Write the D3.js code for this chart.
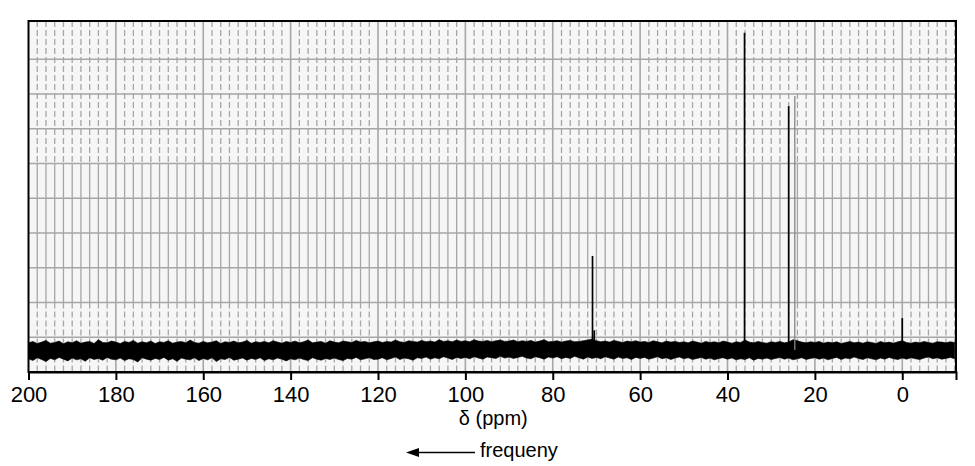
<!DOCTYPE html>
<html>
<head>
<meta charset="utf-8">
<script src="https://cdn.jsdelivr.net/npm/d3@7.9.0/dist/d3.min.js"></script>
<style>
  html, body { margin: 0; padding: 0; background: #fff; }
  svg { display: block; font-family: "Liberation Sans", Arial, sans-serif; }
</style>
</head>
<body>
<div id="chart"></div>
<script>
// ppm axis
const xTicks = [200, 180, 160, 140, 120, 100, 80, 60, 40, 20, 0];
const ppmStart = 200;   // noise envelope sampled every 1 ppm from 200 down to -12

// upper / lower edge of the baseline noise band (grid units)
const noiseHi = [
  0.84,0.88,0.82,0.86,0.91,0.83,0.85,0.89,0.81,0.87,
  0.84,0.90,0.83,0.86,0.88,0.82,0.93,0.85,0.84,0.89,
  0.86,0.82,0.88,0.85,0.91,0.83,0.87,0.84,0.89,0.82,
  0.87,0.85,0.90,0.83,0.86,0.88,0.84,0.92,0.85,0.83,
  0.88,0.84,0.86,0.90,0.82,0.87,0.85,0.89,0.84,0.86,
  0.91,0.83,0.87,0.85,0.88,0.84,0.90,0.86,0.83,0.88,
  0.85,0.89,0.84,0.87,0.92,0.84,0.86,0.88,0.83,0.90,
  0.86,0.84,0.89,0.87,0.85,0.91,0.86,0.88,0.84,0.87,
  0.89,0.85,0.88,0.86,0.92,0.87,0.85,0.90,0.88,0.86,
  0.91,0.87,0.89,0.86,0.93,0.88,0.90,0.87,0.92,0.88,
  0.90,0.87,0.93,0.89,0.88,0.91,0.87,0.90,0.92,0.88,
  0.89,0.92,0.87,0.90,0.88,0.91,0.86,0.89,0.93,0.87,
  0.88,0.90,0.86,0.89,0.91,0.87,0.88,0.90,0.92,0.95,
  0.90,0.87,0.89,0.86,0.91,0.88,0.85,0.89,0.87,0.90,
  0.86,0.88,0.85,0.90,0.87,0.84,0.89,0.86,0.88,0.85,
  0.87,0.84,0.89,0.86,0.83,0.88,0.85,0.87,0.84,0.89,
  0.86,0.83,0.87,0.85,0.92,0.86,0.84,0.88,0.85,0.83,
  0.87,0.85,0.88,0.84,0.86,0.93,0.90,0.86,0.84,0.87,
  0.85,0.88,0.83,0.86,0.84,0.87,0.82,0.85,0.88,0.84,
  0.86,0.83,0.87,0.85,0.82,0.88,0.84,0.86,0.83,0.87,
  0.90,0.85,0.83,0.86,0.84,0.88,0.85,0.83,0.87,0.86,
  0.84,0.87,0.85
];
const noiseLo = [
  0.38,0.33,0.41,0.36,0.30,0.39,0.35,0.42,0.37,0.32,
  0.40,0.35,0.38,0.31,0.41,0.36,0.39,0.34,0.42,0.37,
  0.35,0.40,0.33,0.38,0.36,0.29,0.41,0.37,0.34,0.39,
  0.36,0.42,0.34,0.38,0.31,0.40,0.37,0.35,0.41,0.33,
  0.39,0.35,0.41,0.30,0.38,0.36,0.42,0.34,0.37,0.40,
  0.34,0.39,0.36,0.41,0.33,0.38,0.35,0.40,0.37,0.32,
  0.38,0.35,0.40,0.36,0.33,0.41,0.37,0.34,0.39,0.36,
  0.40,0.36,0.33,0.39,0.37,0.42,0.35,0.38,0.41,0.36,
  0.37,0.41,0.35,0.39,0.43,0.36,0.40,0.38,0.34,0.41,
  0.39,0.43,0.37,0.41,0.38,0.44,0.40,0.36,0.42,0.39,
  0.42,0.38,0.44,0.40,0.37,0.43,0.41,0.39,0.45,0.40,
  0.43,0.39,0.42,0.45,0.40,0.38,0.44,0.41,0.37,0.43,
  0.40,0.44,0.38,0.42,0.39,0.45,0.41,0.37,0.43,0.39,
  0.42,0.38,0.44,0.40,0.37,0.43,0.39,0.41,0.36,0.42,
  0.39,0.42,0.37,0.40,0.44,0.38,0.41,0.36,0.40,0.43,
  0.38,0.41,0.36,0.39,0.42,0.37,0.40,0.35,0.39,0.41,
  0.37,0.40,0.35,0.38,0.36,0.41,0.34,0.39,0.37,0.40,
  0.36,0.39,0.42,0.37,0.40,0.35,0.38,0.41,0.36,0.39,
  0.41,0.37,0.40,0.35,0.39,0.42,0.36,0.40,0.38,0.43,
  0.39,0.36,0.41,0.38,0.35,0.40,0.37,0.42,0.38,0.36,
  0.40,0.37,0.41,0.38,0.36,0.40,0.43,0.38,0.41,0.37,
  0.39,0.42,0.38
];

// signals: position (ppm) and top (grid units)
const peakPpm    = [70.9, 70.5, 36.1, 26.0, 0.0];
const peakHeight = [3.34, 1.20, 9.76, 7.65, 1.55];
// faint (grey) trace at ~24.6 ppm
const faintPpm    = [24.6];
const faintHeight = [7.94];

const baseLevel = 0.63;

const width = 975, height = 466;
const margin = { top: 21, right: 19, bottom: 94, left: 28.5 };
const plotW = width - margin.left - margin.right;
const plotH = height - margin.top - margin.bottom;

const svg = d3.select("#chart").append("svg")
  .attr("width", width)
  .attr("height", height);

const x = d3.scaleLinear().domain([200, -12.3]).range([0, plotW]);
const y = d3.scaleLinear().domain([0, 10.1]).range([plotH, 0]);

const g = svg.append("g").attr("transform", `translate(${margin.left},${margin.top})`);

g.append("rect")
  .attr("width", plotW).attr("height", plotH)
  .attr("fill", "#f6f6f6");

// minor vertical grid, every 2 ppm (dashed top & bottom, solid in middle band)
const minor = d3.range(198, -12.3, -2).filter(d => d % 20 !== 0);
const gridCol = "#a6a6a6";
const segs = [
  { y0: 10.1, y1: 6, dash: "6,3" },
  { y0: 6, y1: 2, dash: null },
  { y0: 2, y1: 0, dash: "6,3" }
];
segs.forEach(s => {
  g.append("g").selectAll("line").data(minor).join("line")
    .attr("x1", d => x(d)).attr("x2", d => x(d))
    .attr("y1", y(s.y0)).attr("y2", y(s.y1))
    .attr("stroke", gridCol)
    .attr("stroke-width", 1.3)
    .attr("stroke-dasharray", s.dash);
});

// major vertical grid, every 20 ppm
g.append("g").selectAll("line").data(xTicks.slice(1)).join("line")
  .attr("x1", d => x(d)).attr("x2", d => x(d))
  .attr("y1", 0).attr("y2", plotH)
  .attr("stroke", gridCol).attr("stroke-width", 1.6);

// horizontal grid
g.append("g").selectAll("line").data(d3.range(1, 10)).join("line")
  .attr("x1", 0).attr("x2", plotW)
  .attr("y1", d => y(d)).attr("y2", d => y(d))
  .attr("stroke", gridCol).attr("stroke-width", 1.6);

// noise band
const noise = noiseHi.map((h, i) => ({ ppm: ppmStart - i, hi: h, lo: noiseLo[i] }));
g.append("path")
  .datum(noise)
  .attr("fill", "#000")
  .attr("stroke", "#000")
  .attr("stroke-width", 0.6)
  .attr("d", d3.area().x(d => x(d.ppm)).y0(d => y(d.lo)).y1(d => y(d.hi)));

// faint trace
g.append("g").selectAll("line").data(faintPpm).join("line")
  .attr("x1", d => x(d)).attr("x2", d => x(d))
  .attr("y1", y(baseLevel)).attr("y2", (d, i) => y(faintHeight[i]))
  .attr("stroke", "#858585").attr("stroke-width", 1.3);

// peaks
g.append("g").selectAll("line").data(peakPpm).join("line")
  .attr("x1", d => x(d)).attr("x2", d => x(d))
  .attr("y1", y(baseLevel)).attr("y2", (d, i) => y(peakHeight[i]))
  .attr("stroke", "#000").attr("stroke-width", 1.7);

// frame
g.append("rect")
  .attr("width", plotW).attr("height", plotH)
  .attr("fill", "none").attr("stroke", "#000").attr("stroke-width", 2);

// x axis
const xAxis = g.append("g")
  .attr("transform", `translate(0,${plotH})`)
  .call(d3.axisBottom(x).tickValues(xTicks).tickSize(8).tickPadding(6));
xAxis.select(".domain").attr("stroke-width", 2);
xAxis.selectAll(".tick line").attr("stroke-width", 2);
xAxis.selectAll("text")
  .attr("font-size", 22)
  .attr("font-family", "Liberation Sans, Arial, sans-serif")
  .attr("fill", "#000");

svg.append("text")
  .attr("x", margin.left + plotW / 2 + 1)
  .attr("y", 425)
  .attr("text-anchor", "middle")
  .attr("font-size", 20)
  .text("δ (ppm)");

// frequency arrow
svg.append("line")
  .attr("x1", 414).attr("x2", 475)
  .attr("y1", 452.5).attr("y2", 452.5)
  .attr("stroke", "#000").attr("stroke-width", 1.6);
svg.append("path")
  .attr("d", "M406,452.5 L419,448 L419,457 Z")
  .attr("fill", "#000");
svg.append("text")
  .attr("x", 480)
  .attr("y", 457)
  .attr("font-size", 20)
  .text("frequeny");
</script>
</body>
</html>
